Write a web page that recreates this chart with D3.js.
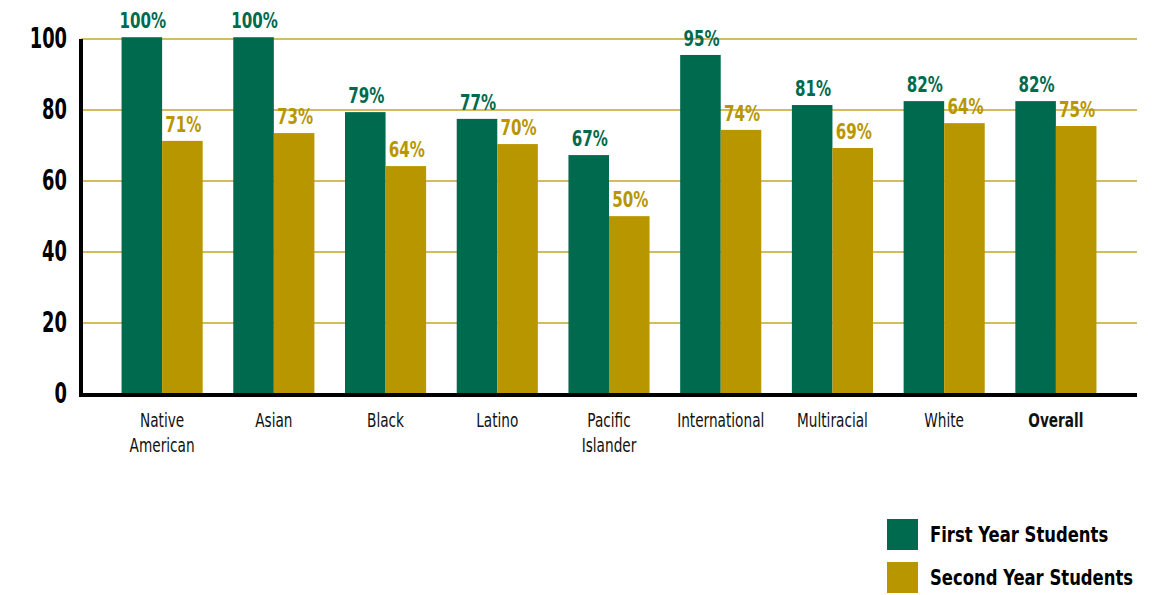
<!DOCTYPE html>
<html>
<head>
<meta charset="utf-8">
<script src="https://cdn.jsdelivr.net/npm/d3@7"></script>
<style>
  body { margin: 0; background: #fff; }
  svg text { font-family: "DejaVu Sans Condensed", "DejaVu Sans", sans-serif; }
</style>
</head>
<body>
<div class="canvas"></div>
<script>
// data
const categories = ['Native American', 'Asian', 'Black', 'Latino', 'Pacific Islander', 'International', 'Multiracial', 'White', 'Overall'];
const firstYear = [100.5, 100.5, 79.4, 77.5, 67.3, 95.5, 81.4, 82.5, 82.5];
const secondYear = [71.3, 73.5, 64.2, 70.4, 50.1, 74.4, 69.3, 76.3, 75.5];
const firstLabels = ['100%', '100%', '79%', '77%', '67%', '95%', '81%', '82%', '82%'];
const secondLabels = ['71%', '73%', '64%', '70%', '50%', '74%', '69%', '64%', '75%'];
const yTicks = [0, 20, 40, 60, 80, 100];
const seriesNames = ['First Year Students', 'Second Year Students'];

const green = '#006a4e';
const gold = '#b89600';

const margin = { top: 39, right: 30, bottom: 201, left: 81 };
const width = 1167, height = 595;
const graphWidth = width - margin.left - margin.right;
const graphHeight = height - margin.top - margin.bottom;

const svg = d3.select('.canvas')
    .append('svg')
    .attr('width', width)
    .attr('height', height);

const graph = svg.append('g')
    .attr('transform', `translate(${margin.left}, ${margin.top})`);

// scales
const y = d3.scaleLinear().domain([0, 100]).range([graphHeight, 0]);
const x = d3.scaleBand()
    .domain(categories)
    .range([0, graphWidth])
    .paddingInner(0.274)
    .paddingOuter(0.363);
const x1 = d3.scaleBand().domain([0, 1]).range([0, x.bandwidth()]);

// gridlines
graph.append('g')
    .selectAll('line')
    .data(yTicks.filter(d => d > 0))
    .join('line')
    .attr('x1', 0)
    .attr('x2', graphWidth)
    .attr('y1', d => y(d))
    .attr('y2', d => y(d))
    .attr('stroke', '#c4a52a')
    .attr('stroke-width', 1.5);

// bars
const data = categories.map((c, i) => ({ name: c, vals: [firstYear[i], secondYear[i]], labels: [firstLabels[i], secondLabels[i]] }));
const groups = graph.selectAll('g.cat')
    .data(data)
    .join('g')
    .attr('class', 'cat')
    .attr('transform', d => `translate(${x(d.name)}, 0)`);

groups.selectAll('rect')
    .data(d => d.vals)
    .join('rect')
    .attr('x', (d, i) => x1(i))
    .attr('width', x1.bandwidth())
    .attr('y', d => y(d))
    .attr('height', d => graphHeight - y(d))
    .attr('fill', (d, i) => i === 0 ? green : gold);

// value labels, squeezed to look condensed
groups.selectAll('text.val')
    .data(d => d.vals.map((v, i) => ({ v, label: d.labels[i] })))
    .join('text')
    .attr('class', 'val')
    .attr('transform', (d, i) => `translate(${x1(i) + x1.bandwidth() / 2 + 1}, ${y(d.v) - 9}) scale(0.8, 1)`)
    .attr('text-anchor', 'middle')
    .attr('font-size', 21)
    .attr('font-weight', 'bold')
    .attr('fill', (d, i) => i === 0 ? green : gold)
    .text(d => d.label);

// axes
const ySq = 0.71;
const yAxisGroup = graph.append('g');
const yAxis = d3.axisLeft(y).tickValues(yTicks).tickSize(0).tickPadding(14);
yAxisGroup.call(yAxis);
yAxisGroup.select('.domain').remove();
yAxisGroup.selectAll('text')
    .attr('font-size', 28)
    .attr('font-weight', 'bold')
    .attr('fill', '#000')
    .attr('x', -14 / ySq)
    .attr('transform', `scale(${ySq}, 1)`);

graph.append('line')
    .attr('x1', 0).attr('x2', 0)
    .attr('y1', 0).attr('y2', graphHeight + 2)
    .attr('stroke', '#000').attr('stroke-width', 4);
graph.append('line')
    .attr('x1', -2).attr('x2', graphWidth)
    .attr('y1', graphHeight + 1).attr('y2', graphHeight + 1)
    .attr('stroke', '#000').attr('stroke-width', 4);

// category labels (wrapped)
const wrapped = {
    'Native American': ['Native', 'American'],
    'Pacific Islander': ['Pacific', 'Islander']
};
const xLabels = graph.append('g')
    .selectAll('text')
    .data(categories)
    .join('text')
    .attr('transform', d => `translate(${x(d) + x.bandwidth() / 2}, ${graphHeight + 33}) scale(0.8, 1)`)
    .attr('text-anchor', 'middle')
    .attr('font-size', 19)
    .attr('font-weight', d => d === 'Overall' ? 'bold' : 'normal')
    .attr('fill', '#111');
xLabels.selectAll('tspan')
    .data(d => wrapped[d] || [d])
    .join('tspan')
    .attr('x', 0)
    .attr('dy', (d, i) => i === 0 ? 0 : 25)
    .text(d => d);

// legend
const legend = svg.append('g').attr('transform', 'translate(887, 519)');
const items = legend.selectAll('g')
    .data(seriesNames)
    .join('g')
    .attr('transform', (d, i) => `translate(0, ${i * 43})`);
items.append('rect')
    .attr('width', 31).attr('height', 31)
    .attr('fill', (d, i) => i === 0 ? green : gold);
items.append('text')
    .attr('transform', 'translate(43, 23) scale(0.87, 1)')
    .attr('font-size', 21)
    .attr('font-weight', 'bold')
    .attr('fill', '#000')
    .text(d => d);
</script>
</body>
</html>
